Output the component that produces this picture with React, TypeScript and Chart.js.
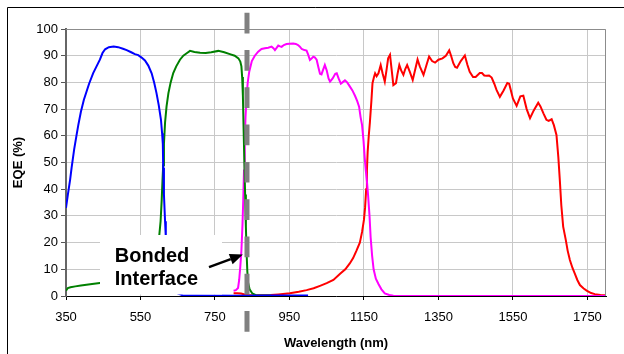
import React, { useEffect, useRef } from "react";
import { Chart, registerables } from "chart.js";

Chart.register(...registerables);

// ---------- data ----------
const xTickLabels = [350, 550, 750, 950, 1150, 1350, 1550, 1750];
const yTickStep = 10;
const xMin = 350;
const xMax = 1800;
const yMin = 0;
const yMax = 100;

const blueWl = [350, 355, 361, 365, 372, 378, 383, 390, 398, 405, 412, 423, 432, 441, 448, 455, 465, 478, 490, 503, 513, 525, 535, 544, 553, 562, 571, 580, 587, 593, 599, 605, 608, 610, 611, 613, 616, 618, 622, 627, 635, 650, 664, 700, 800, 900, 1000];
const blueEqe = [33, 38, 43.5, 48, 55, 60, 64, 69, 73.5, 76.5, 79.5, 83.5, 86, 88.5, 91, 92.4, 93.2, 93.4, 93.2, 92.6, 92.1, 91.3, 90.6, 90.2, 89.3, 88.2, 86.3, 83.4, 79.8, 76, 71.5, 66, 61, 57, 48, 38, 28, 22, 14, 7, 3, 1, 0.2, 0.2, 0.1, 0.2, 0.2];

const greenWl = [350, 355, 362, 375, 390, 405, 420, 441, 470, 520, 560, 585, 595, 600, 604, 607, 609, 611, 613, 616, 620, 625, 631, 638, 646, 656, 665, 675, 683, 695, 710, 725, 740, 759, 775, 790, 803, 813, 818, 821, 823, 825, 827, 829, 831, 833, 835, 837, 839, 843, 850, 860, 900];
const greenEqe = [2, 3, 3.3, 3.6, 3.9, 4.2, 4.5, 4.9, 5.5, 6, 7, 10, 16, 22, 28, 36, 43, 49, 57, 65, 71, 76, 80, 83.5, 86, 88.5, 90, 91, 91.8, 91.4, 91.1, 91, 91.3, 91.8, 91.3, 90.6, 90, 89, 87.8, 86, 82, 75, 62, 50, 38, 26, 16, 9, 5, 2.5, 1, 0.3, 0.2];

const magentaWl = [800, 806, 812, 815, 818, 821, 824, 826, 828, 830, 832, 835, 838, 842, 849, 857, 866, 875, 884, 893, 902, 907, 911, 916, 920, 925, 929, 935, 942, 950, 960, 967, 973, 978, 983, 990, 996, 1000, 1005, 1010, 1014, 1018, 1023, 1028, 1032, 1036, 1041, 1045, 1050, 1055, 1059, 1066, 1073, 1077, 1082, 1088, 1094, 1099, 1105, 1112, 1119, 1126, 1132, 1137, 1141, 1145, 1149, 1152, 1155, 1158, 1161, 1165, 1168, 1172, 1176, 1182, 1189, 1197, 1206, 1218, 1229, 1300, 1500, 1800];
const magentaEqe = [2, 2.2, 3, 6, 11, 17, 27, 36, 47, 58, 67, 75, 80, 84, 88, 90, 91.5, 92.5, 92.8, 93, 93.4, 92.8, 92.1, 93, 93.8, 93.5, 93.3, 94, 94.4, 94.5, 94.6, 94.4, 94, 93.4, 92.5, 92.1, 91.9, 90.5, 88.4, 89, 89.6, 89.4, 88.5, 85.5, 83.2, 83, 85, 86.5, 84.5, 81.5, 80.3, 81.5, 83.2, 83.4, 81.5, 79.5, 80.2, 80.8, 80, 78.5, 77, 75, 73, 70.9, 67, 64, 58, 52, 47, 43, 38, 30, 22, 15, 10, 6.5, 4.5, 2.5, 1, 0.4, 0.1, 0, 0, 0];

const redWl = [800, 810, 820, 830, 840, 860, 880, 900, 920, 951, 975, 996, 1015, 1032, 1050, 1068, 1086, 1100, 1112, 1121, 1130, 1139, 1145, 1150, 1153, 1156, 1158, 1160, 1163, 1166, 1170, 1173, 1177, 1180, 1184, 1189, 1195, 1200, 1206, 1211, 1215, 1220, 1225, 1229, 1236, 1240, 1245, 1250, 1256, 1261, 1266, 1273, 1281, 1288, 1294, 1300, 1310, 1318, 1325, 1333, 1341, 1350, 1361, 1370, 1379, 1384, 1390, 1395, 1400, 1410, 1421, 1428, 1434, 1443, 1450, 1461, 1467, 1473, 1479, 1486, 1493, 1500, 1506, 1515, 1525, 1535, 1540, 1550, 1560, 1570, 1578, 1587, 1596, 1606, 1618, 1624, 1632, 1640, 1646, 1654, 1660, 1667, 1672, 1676, 1680, 1685, 1692, 1697, 1703, 1710, 1716, 1723, 1730, 1740, 1748, 1760, 1770, 1785, 1800];
const redEqe = [1, 1, 0.9, 0.6, 0.4, 0.3, 0.3, 0.4, 0.6, 1, 1.6, 2.2, 2.9, 3.8, 4.8, 6, 8.3, 10, 12.2, 14.2, 17, 20, 24, 28.5, 33, 40, 47, 54, 60, 65, 73, 79.7, 82, 83.4, 82.3, 83.4, 86.5, 83.4, 80.3, 85, 89, 90.3, 84, 79, 79.7, 83, 86.5, 84.5, 82.8, 85, 86.5, 84, 80.9, 85, 88.6, 86, 82.8, 86.5, 89.7, 88, 87.4, 88.5, 89, 90, 92, 90, 87.2, 85.8, 85.5, 88, 90.1, 86.5, 84, 82, 82, 83.5, 83.5, 82.6, 82.5, 82.6, 81.8, 79.5, 77.2, 74.6, 77, 79.8, 79.5, 74, 71.2, 74.8, 75, 70, 66.6, 69.5, 72.4, 71, 68.4, 66, 65.6, 66.2, 64, 60.3, 52, 43.4, 34, 26, 21, 17, 13.5, 10.5, 8.5, 6, 4.1, 2.8, 2, 1.1, 0.7, 0.4, 0.3];

const seriesColors = ["#0000FF", "#008000", "#FF00FF", "#FF0000"];

const xTitle = "Wavelength (nm)";
const yTitle = "EQE (%)";
const annotationLines = ["Bonded", "Interface"];
const bondedInterfaceWl = 836;

// annotation anchor points (data coordinates)
const boxWl = [441, 768];
const boxEqeTop = 23;
const textWl = 481;
const textEqe = [12.85, 4.1];
const arrowTail = [734, 10.8];
const arrowTip = [825, 15.5];

const FONT = "'Liberation Sans', Arial, Helvetica, sans-serif";

function zip(xs: number[], ys: number[]) {
  return xs.map((x, i) => ({ x, y: ys[i] }));
}

const overlayPlugin = {
  id: "overlay",
  afterDatasetsDraw(chart: any) {
    const { ctx, chartArea: a, scales } = chart;
    const x = scales.x;
    const y = scales.y;
    ctx.save();

    // plot frame (top and right)
    ctx.strokeStyle = "#8c8c8c";
    ctx.lineWidth = 1;
    ctx.beginPath();
    ctx.moveTo(a.left, Math.round(a.top) + 0.5);
    ctx.lineTo(Math.round(a.right) - 0.5, Math.round(a.top) + 0.5);
    ctx.lineTo(Math.round(a.right) - 0.5, a.bottom);
    ctx.stroke();

    // white annotation box
    const bx0 = Math.round(x.getPixelForValue(boxWl[0]));
    const bx1 = Math.round(x.getPixelForValue(boxWl[1]));
    const by0 = Math.round(y.getPixelForValue(boxEqeTop));
    const by1 = a.bottom - 1.5;
    ctx.fillStyle = "#ffffff";
    ctx.fillRect(bx0, by0, bx1 - bx0, by1 - by0);

    // text
    ctx.fillStyle = "#000000";
    ctx.font = `bold 20px ${FONT}`;
    ctx.textAlign = "left";
    ctx.textBaseline = "alphabetic";
    annotationLines.forEach((t, i) => {
      ctx.fillText(t, x.getPixelForValue(textWl), y.getPixelForValue(textEqe[i]));
    });

    // arrow
    const tx = x.getPixelForValue(arrowTail[0]);
    const ty = y.getPixelForValue(arrowTail[1]);
    const hx = x.getPixelForValue(arrowTip[0]);
    const hy = y.getPixelForValue(arrowTip[1]);
    const ang = Math.atan2(hy - ty, hx - tx);
    const headLen = 13;
    const headW = 5.5;
    const bxh = hx - headLen * Math.cos(ang);
    const byh = hy - headLen * Math.sin(ang);
    ctx.strokeStyle = "#000000";
    ctx.lineWidth = 2.5;
    ctx.beginPath();
    ctx.moveTo(tx, ty);
    ctx.lineTo(bxh, byh);
    ctx.stroke();
    ctx.beginPath();
    ctx.moveTo(hx, hy);
    ctx.lineTo(bxh + headW * Math.sin(ang), byh - headW * Math.cos(ang));
    ctx.lineTo(bxh - headW * Math.sin(ang), byh + headW * Math.cos(ang));
    ctx.closePath();
    ctx.fill();

    // dashed bonded-interface line
    const dx = x.getPixelForValue(bondedInterfaceWl);
    ctx.strokeStyle = "#808080";
    ctx.lineWidth = 5;
    ctx.setLineDash([20.7, 16.6]);
    ctx.beginPath();
    ctx.moveTo(dx, a.top - 16.3);
    ctx.lineTo(dx, a.bottom + 36);
    ctx.stroke();
    ctx.setLineDash([]);

    ctx.restore();
  },
  afterDraw(chart: any) {
    const { ctx, width, height } = chart;
    ctx.save();
    ctx.strokeStyle = "#000000";
    ctx.lineWidth = 1;
    ctx.beginPath();
    ctx.moveTo(7.5, height);
    ctx.lineTo(7.5, 7.5);
    ctx.lineTo(width, 7.5);
    ctx.stroke();
    ctx.restore();
  },
};

export default function App() {
  const ref = useRef<HTMLCanvasElement | null>(null);

  useEffect(() => {
    if (!ref.current) return;
    Chart.defaults.font.family = FONT;
    const datasets = [
      { data: zip(blueWl, blueEqe), borderColor: seriesColors[0] },
      { data: zip(greenWl, greenEqe), borderColor: seriesColors[1] },
      { data: zip(magentaWl, magentaEqe), borderColor: seriesColors[2] },
      { data: zip(redWl, redEqe), borderColor: seriesColors[3] },
    ].map((d) => ({
      ...d,
      borderWidth: 2,
      pointRadius: 0,
      fill: false,
      tension: 0,
    }));

    const chart = new Chart(ref.current, {
      type: "line",
      data: { datasets },
      plugins: [overlayPlugin],
      options: {
        animation: false,
        responsive: false,
        maintainAspectRatio: false,
        events: [],
        layout: { padding: { left: 0, top: 29, right: 18, bottom: 0 } },
        plugins: { legend: { display: false }, tooltip: { enabled: false } },
        scales: {
          x: {
            type: "linear",
            min: xMin,
            max: xMax,
            afterBuildTicks: (s: any) => {
              s.ticks = xTickLabels.map((v) => ({ value: v }));
            },
            afterFit: (s: any) => {
              s.height = 58;
            },
            grid: {
              color: "#c8c8c8",
              lineWidth: 1,
              drawTicks: true,
              tickLength: 4,
              tickColor: "#000000",
            },
            border: { display: true, color: "#000000", width: 1 },
            ticks: {
              autoSkip: false,
              maxRotation: 0,
              padding: 10,
              color: "#000000",
              font: { size: 13 },
              callback: (v: any) => String(v),
            },
            title: {
              display: true,
              text: xTitle,
              color: "#000000",
              font: { size: 13, weight: "bold" },
              padding: { top: 0, bottom: 3 },
            },
          },
          y: {
            type: "linear",
            min: yMin,
            max: yMax,
            afterFit: (s: any) => {
              s.width = 66;
            },
            grid: {
              color: "#c8c8c8",
              lineWidth: 1,
              drawTicks: true,
              tickLength: 5,
              tickColor: "#555555",
            },
            border: { display: true, color: "#666666", width: 2 },
            ticks: {
              stepSize: yTickStep,
              padding: 3,
              color: "#000000",
              font: { size: 13 },
            },
            title: {
              display: true,
              text: yTitle,
              color: "#000000",
              font: { size: 13, weight: "bold" },
              padding: { top: 11, bottom: 0 },
            },
          },
        },
      },
    });
    return () => chart.destroy();
  }, []);

  return (
    <div style={{ position: "fixed", left: 0, top: 0, width: 624, height: 354, background: "#ffffff" }}>
      <canvas ref={ref} width={624} height={354} style={{ display: "block", width: 624, height: 354 }} />
    </div>
  );
}
